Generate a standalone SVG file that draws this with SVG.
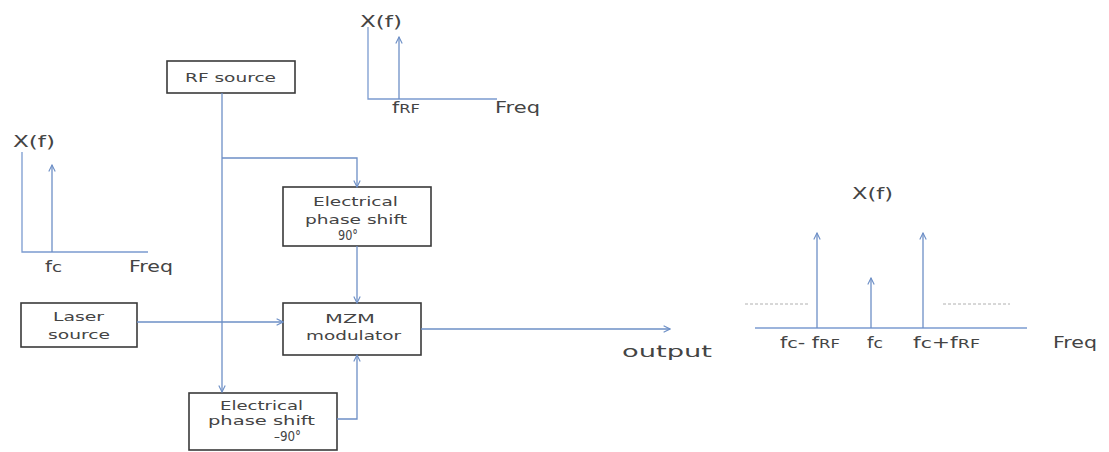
<svg xmlns="http://www.w3.org/2000/svg" width="1109" height="452" viewBox="0 0 1109 452">
<style>
.box{fill:#fff;stroke:#3a3a3a;stroke-width:1.6}
.t{font-family:"DejaVu Sans","Liberation Sans",sans-serif;font-size:12.5px;fill:#444}
.deg{font-size:14px}
.lab{font-family:"DejaVu Sans","Liberation Sans",sans-serif;font-size:15px;fill:#444}
.c{fill:none;stroke:#6d8fc6;stroke-width:1.3}
.ax{fill:none;stroke:#7b9bd0;stroke-width:1.3}
.dash{fill:none;stroke:#b0b0b0;stroke-width:1;stroke-dasharray:3 2}
</style>
<defs>
<marker id="ah" viewBox="0 0 10 10" refX="9" refY="5" markerWidth="8" markerHeight="8" orient="auto" markerUnits="userSpaceOnUse">
<path d="M1,1 L9,5 L1,9" fill="none" stroke="#6d8fc6" stroke-width="1.4"/>
</marker>
</defs>

<g id="rf-source">
<rect class="box" x="167" y="61" width="128" height="32"/>
<text class="t" x="185" y="82" textLength="91" lengthAdjust="spacingAndGlyphs">RF source</text>
</g>

<g id="phase-90">
<rect class="box" x="283" y="187" width="148" height="59"/>
<text class="t" x="313" y="206" textLength="85" lengthAdjust="spacingAndGlyphs">Electrical</text>
<text class="t" x="305" y="224" textLength="102" lengthAdjust="spacingAndGlyphs">phase shift</text>
<text class="t deg" x="338" y="240" textLength="20" lengthAdjust="spacingAndGlyphs">90°</text>
</g>

<g id="mzm">
<rect class="box" x="283" y="303" width="138" height="52"/>
<text class="t" x="325" y="323" textLength="50" lengthAdjust="spacingAndGlyphs">MZM</text>
<text class="t" x="306" y="340" textLength="95" lengthAdjust="spacingAndGlyphs">modulator</text>
</g>

<g id="laser">
<rect class="box" x="21" y="303" width="116" height="44"/>
<text class="t" x="53" y="321" textLength="51" lengthAdjust="spacingAndGlyphs">Laser</text>
<text class="t" x="48" y="339" textLength="62" lengthAdjust="spacingAndGlyphs">source</text>
</g>

<g id="phase-m90">
<rect class="box" x="189" y="393" width="148" height="57"/>
<text class="t" x="220" y="410" textLength="83" lengthAdjust="spacingAndGlyphs">Electrical</text>
<text class="t" x="208" y="425" textLength="107" lengthAdjust="spacingAndGlyphs">phase shift</text>
<text class="t deg" x="274" y="441" textLength="27" lengthAdjust="spacingAndGlyphs">–90°</text>
</g>

<g id="connectors">
<path class="c" d="M222,93 V392" marker-end="url(#ah)"/>
<path class="c" d="M222,158 H357 V187" marker-end="url(#ah)"/>
<path class="c" d="M357,246 V303" marker-end="url(#ah)"/>
<path class="c" d="M337,419 H357 V355" marker-end="url(#ah)"/>
<path class="c" d="M137,322 H283" marker-end="url(#ah)"/>
<path class="c" d="M421,329 H670" marker-end="url(#ah)"/>
</g>

<text id="output" class="lab" x="622" y="357" textLength="90" lengthAdjust="spacingAndGlyphs">output</text>

<g id="spectrum-left">
<path class="ax" d="M22,152 V252 H148"/>
<path class="c" d="M52,252 V165" marker-end="url(#ah)"/>
<text class="lab" x="13" y="147" textLength="42" lengthAdjust="spacingAndGlyphs">X(f)</text>
<text class="lab" x="45" y="272" textLength="17" lengthAdjust="spacingAndGlyphs">f<tspan font-size="14">c</tspan></text>
<text class="lab" x="129" y="272" textLength="44" lengthAdjust="spacingAndGlyphs">Freq</text>
</g>

<g id="spectrum-top">
<path class="ax" d="M368,27 V99 H497"/>
<path class="c" d="M399,99 V37" marker-end="url(#ah)"/>
<text class="lab" x="360" y="27" textLength="42" lengthAdjust="spacingAndGlyphs">X(f)</text>
<text class="lab" x="392" y="113" textLength="28" lengthAdjust="spacingAndGlyphs">f<tspan font-size="12">RF</tspan></text>
<text class="lab" x="495" y="113" textLength="45" lengthAdjust="spacingAndGlyphs">Freq</text>
</g>

<g id="spectrum-right">
<path class="ax" d="M755,328 H1027"/>
<path class="dash" d="M745,304 H808 M943,304 H1010"/>
<path class="c" d="M817,328 V233" marker-end="url(#ah)"/>
<path class="c" d="M871,328 V278" marker-end="url(#ah)"/>
<path class="c" d="M923,328 V233" marker-end="url(#ah)"/>
<text class="lab" x="852" y="199" textLength="41" lengthAdjust="spacingAndGlyphs">X(f)</text>
<text class="lab" x="780" y="348" textLength="60" lengthAdjust="spacingAndGlyphs">f<tspan font-size="14">c</tspan>- f<tspan font-size="12">RF</tspan></text>
<text class="lab" x="867" y="348" textLength="16" lengthAdjust="spacingAndGlyphs">f<tspan font-size="14">c</tspan></text>
<text class="lab" x="913" y="348" textLength="67" lengthAdjust="spacingAndGlyphs">f<tspan font-size="14">c</tspan>+f<tspan font-size="12">RF</tspan></text>
<text class="lab" x="1053" y="348" textLength="44" lengthAdjust="spacingAndGlyphs">Freq</text>
</g>
</svg>
